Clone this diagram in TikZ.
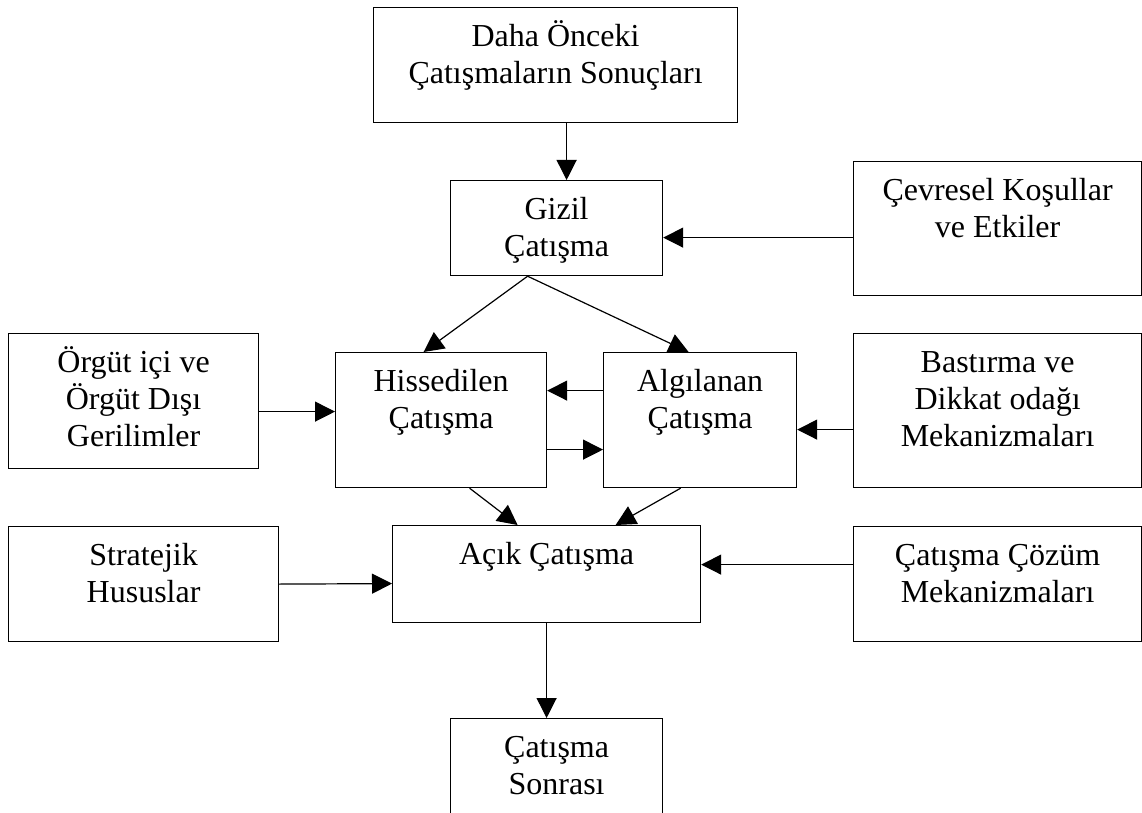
\documentclass[tikz,border=0pt]{standalone}
\usepackage{fontspec}
\setmainfont{Liberation Serif}
\usetikzlibrary{arrows.meta}

\newcommand{\kutuyazi}[3]{\parbox[c][#2][t]{#1}{\centering\rule{0pt}{39pt}#3}}

\begin{document}
\begin{tikzpicture}[x=1pt, y=-1pt,
        kutu/.style={draw, line width=1.2pt, inner sep=0pt, anchor=north west},
        ok/.style={line width=1.2pt, -{Triangle[length=20pt,width=20pt]}},
        font=\fontsize{32pt}{37pt}\selectfont]
                \useasboundingbox (0,0) rectangle (1142,813);

                \node[kutu] (daha)  at (373,7)   {\kutuyazi{364pt}{115pt}{Daha Önceki\\Çatışmaların Sonuçları}};
                \node[kutu] (gizil) at (450,180) {\kutuyazi{212pt}{95pt}{Gizil\\Çatışma}};
                \node[kutu] (cevre) at (853,161) {\kutuyazi{288pt}{134pt}{Çevresel Koşullar\\ve Etkiler}};
                \node[kutu] (orgut) at (8,333)   {\kutuyazi{250pt}{135pt}{Örgüt içi ve\\Örgüt Dışı\\Gerilimler}};
                \node[kutu] (hiss)  at (335,352) {\kutuyazi{211pt}{135pt}{Hissedilen\\Çatışma}};
                \node[kutu] (alg)   at (603,352) {\kutuyazi{193pt}{135pt}{Algılanan\\Çatışma}};
                \node[kutu] (bast)  at (853,333) {\kutuyazi{288pt}{154pt}{Bastırma ve\\Dikkat odağı\\Mekanizmaları}};
                \node[kutu] (strat) at (8,526)   {\kutuyazi{270pt}{115pt}{Stratejik\\Hususlar}};
                \node[kutu] (acik)  at (392,525) {\kutuyazi{308pt}{97pt}{Açık Çatışma}};
                \node[kutu] (cozum) at (853,526) {\kutuyazi{288pt}{115pt}{Çatışma Çözüm\\Mekanizmaları}};
                \node[kutu] (sonra) at (450,718) {\kutuyazi{212pt}{125pt}{Çatışma\\Sonrası}};

                % oklar
                \draw[ok] ([xshift=11pt]daha.south) -- ([xshift=10pt]gizil.north);
                \draw[ok] ([yshift=-9pt]cevre.west) -- ([yshift=-9.5pt]gizil.east);
                \draw[ok] ([xshift=-29pt]gizil.south) -- ([xshift=-17.5pt]hiss.north);
                \draw[ok] ([xshift=-29pt]gizil.south) -- ([xshift=-11.5pt]alg.north);
                \draw[ok] ([yshift=-10.5pt]orgut.east) -- ([yshift=8.5pt]hiss.west);
                \draw[ok] ([yshift=29.5pt]alg.west) -- ([yshift=29.5pt]hiss.east);
                \draw[ok] ([yshift=-29.5pt]hiss.east) -- ([yshift=-29.5pt]alg.west);
                \draw[ok] ([yshift=-19pt]bast.west) -- ([yshift=-9.5pt]alg.east);
                \draw[ok] ([xshift=28.5pt]hiss.south) -- ([xshift=-29pt]acik.north);
                \draw[ok] ([xshift=-19.5pt]alg.south) -- ([xshift=69pt]acik.north);
                \draw[ok] (strat.east) -- ([yshift=-9.5pt]acik.west);
                \draw[ok] ([yshift=19.5pt]cozum.west) -- ([yshift=9.5pt]acik.east);
                \draw[ok] (acik.south) -- ([xshift=-10pt]sonra.north);

\end{tikzpicture}
\end{document}
